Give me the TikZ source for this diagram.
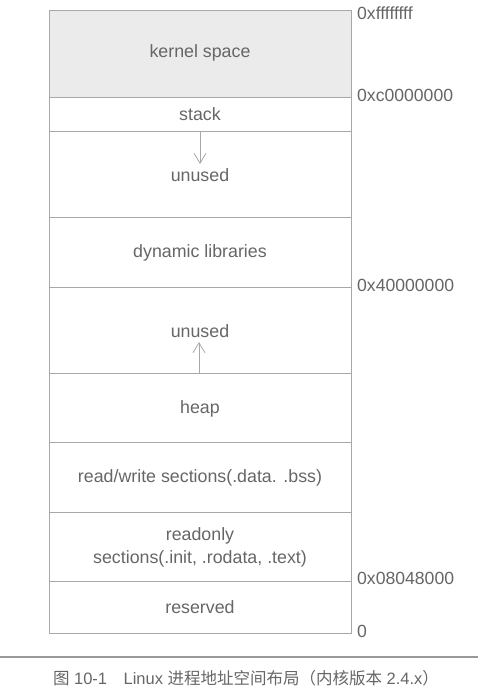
\documentclass[tikz,border=0pt]{standalone}
\usepackage{fontspec}
\setmainfont{Liberation Sans}
\newfontfamily\cjk{Noto Sans CJK SC}
\usetikzlibrary{arrows.meta}
\definecolor{linegray}{HTML}{A8A8A8}
\definecolor{txtgray}{HTML}{666666}
\definecolor{kfill}{HTML}{EBEBEB}
\tikzset{
  region/.style={draw=linegray, line width=0.8pt, minimum width=302pt, inner sep=0pt, outer sep=0pt, anchor=north west},
  lbl/.style={text=txtgray, font=\fontsize{17.8}{20}\selectfont, inner sep=0pt, align=center},
  addr/.style={text=txtgray, font=\fontsize{17.6}{20}\selectfont, inner sep=0pt, anchor=west},
  growarrow/.style={draw=linegray, line width=0.8pt, -{Straight Barb[length=10pt,width=12pt,line width=0.8pt]}},
}
\begin{document}
\begin{tikzpicture}[x=1pt,y=-1pt]
\useasboundingbox (0,0) rectangle (478,694);
% regions
\node[region, fill=kfill, minimum height=87pt] (kern) at (49,10) {};
\node[region, minimum height=34pt] (stk) at (49,97) {};
\node[region, minimum height=86pt] (un1) at (49,131) {};
\node[region, minimum height=70pt] (dyn) at (49,217) {};
\node[region, minimum height=86pt] (un2) at (49,287) {};
\node[region, minimum height=69pt] (heap) at (49,373) {};
\node[region, minimum height=70pt] (rw) at (49,442) {};
\node[region, minimum height=69pt] (ro) at (49,512) {};
\node[region, minimum height=52pt] (res) at (49,581) {};
% labels
\node[lbl] (tkern) at (200,53) {kernel space};
\node[lbl] (tstk) at (200,114) {stack};
\node[lbl] (tun1) at (200,175) {unused};
\node[lbl] (tdyn) at (200,253) {dynamic libraries};
\node[lbl] (tun2) at (200,331) {unused};
\node[lbl] (theap) at (200,409) {heap};
\node[lbl] (trw) at (200,478) {read/write sections(.data. .bss)};
\node[lbl] (tro1) at (200,536) {readonly};
\node[lbl] (tro2) at (200,559) {sections(.init, .rodata, .text)};
\node[lbl] (tres) at (200,607) {reserved};
% growth arrows
\coordinate (a1) at (200,131);
\coordinate (a1e) at (200,164);
\draw[growarrow] (a1) -- (a1e);
\coordinate (a2) at (199,373);
\coordinate (a2e) at (199,342);
\draw[growarrow] (a2) -- (a2e);
% addresses
\node[addr] (ad1) at (357,13) {0xffffffff};
\node[addr] (ad2) at (357,95) {0xc0000000};
\node[addr] (ad3) at (357,285) {0x40000000};
\node[addr] (ad4) at (357,578) {0x08048000};
\node[addr] (ad5) at (357,631) {0};
% caption
\coordinate (s1) at (0,657);
\coordinate (s2) at (478,657);
\draw[draw=gray!80, line width=1.4pt] (s1) -- (s2);
\node[text=txtgray, font=\fontsize{16.5}{18}\selectfont, inner sep=0pt] (cap) at (246,678) {{\cjk 图} 10-1\quad Linux {\cjk 进程地址空间布局（内核版本} 2.4.x{\cjk ）}};
\end{tikzpicture}
\end{document}
